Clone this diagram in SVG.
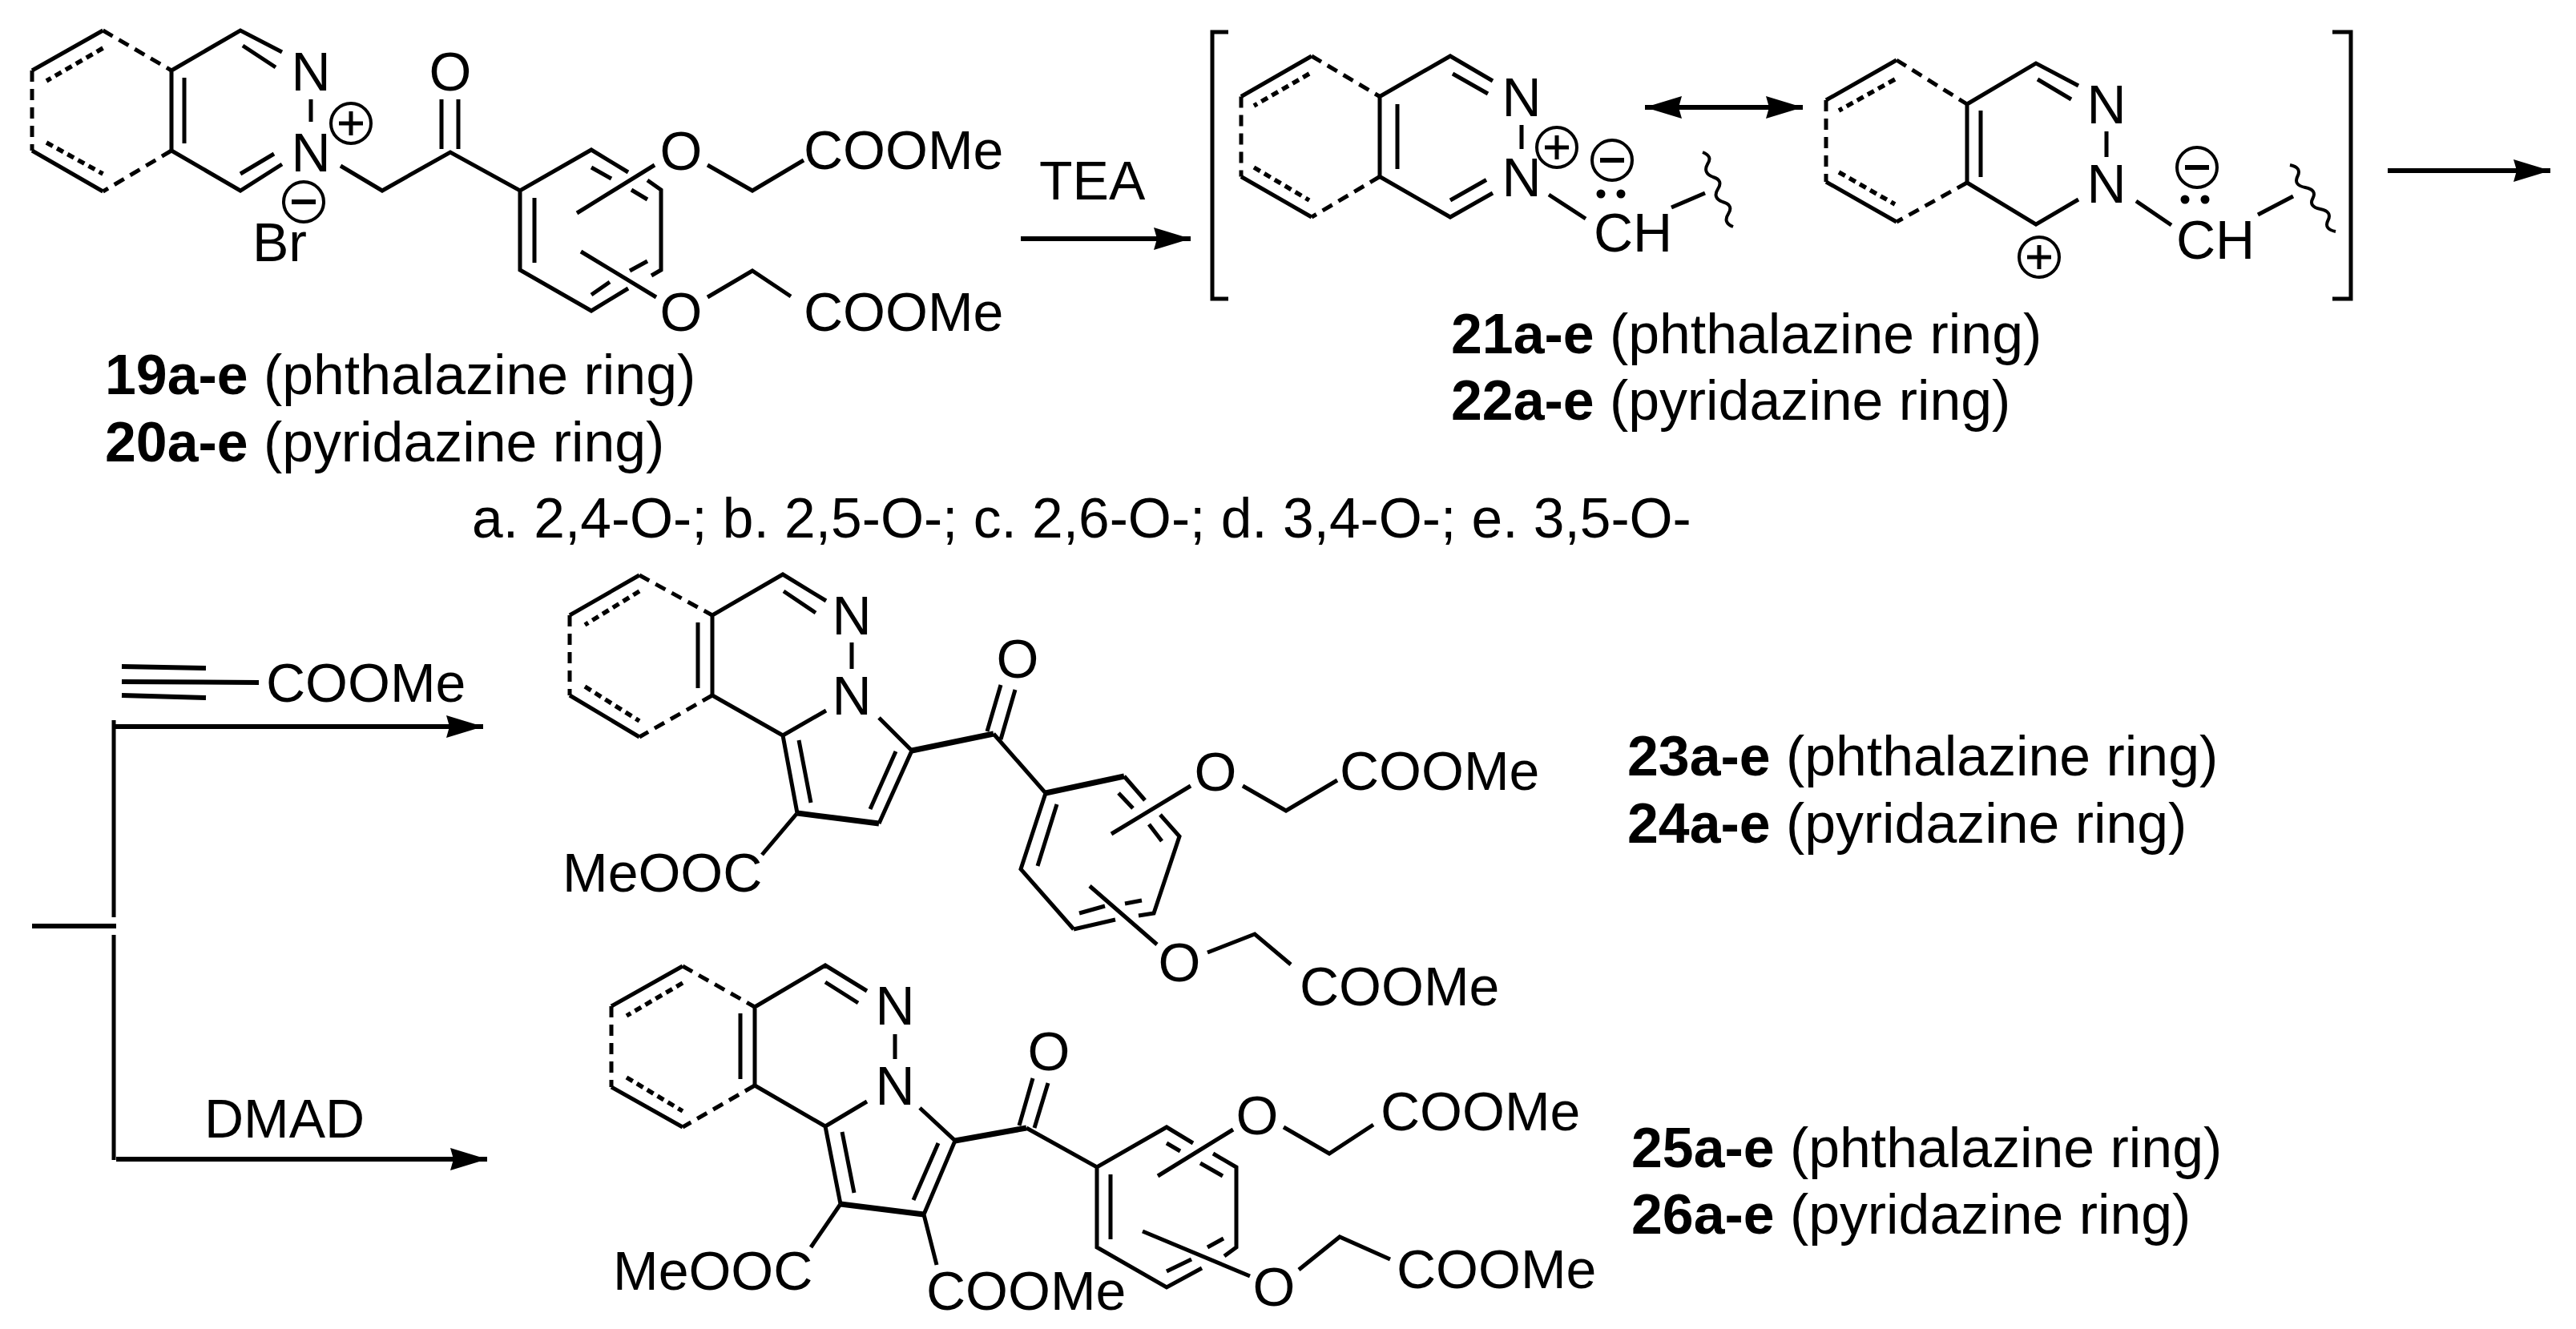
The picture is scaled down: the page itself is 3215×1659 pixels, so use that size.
<svg xmlns="http://www.w3.org/2000/svg" width="3215" height="1659" viewBox="0 0 3215 1659">
<style>
text{font-family:"Liberation Sans",Arial,sans-serif;font-size:68px;fill:#000}
text.l{font-size:69.8px}
.b{font-weight:bold}
.m{text-anchor:middle}
path{fill:none;stroke:#000;stroke-width:5}
.d{stroke-dasharray:14 9}
.f{stroke-dasharray:9 6;stroke-width:5.5}
.h{stroke-width:6}
.t{stroke-width:7}
circle{fill:none;stroke:#000;stroke-width:4}
.dot{fill:#000;stroke:none}
.w{stroke-width:4}
</style>
<defs>
<marker id="ah" markerUnits="userSpaceOnUse" markerWidth="50" markerHeight="30" refX="46" refY="14" orient="auto"><path d="M0 0L46 14L0 28L4 14Z" style="fill:#000;stroke:none"/></marker>
<marker id="ahs" markerUnits="userSpaceOnUse" markerWidth="50" markerHeight="30" refX="46" refY="14" orient="auto-start-reverse"><path d="M0 0L46 14L0 28L4 14Z" style="fill:#000;stroke:none"/></marker>
<g id="plus"><circle r="25"/><path d="M-15 0H15M0 -15V15"/></g>
<g id="minus"><circle r="25"/><path d="M-15 0H15" style="stroke-width:6"/></g>
</defs>

<g id="connectors">
<path class="h" d="M1274 298H1486" marker-end="url(#ah)"/>
<path class="h" d="M2053 134H2250" marker-start="url(#ahs)" marker-end="url(#ahs)"/>
<path class="h" d="M2980 213H3183" marker-end="url(#ah)"/>
<path d="M142 899V1145M142 1167V1448"/>
<path class="h" d="M142 907H603" marker-end="url(#ah)"/>
<path class="h" d="M145 1447H608" marker-end="url(#ah)"/>
<path class="h" d="M40 1156H145"/>
</g>

<g id="compound-19">
<path d="M128.5 38L40 88M40 188L128.5 239M214 88V188M230 97V179M128.5 38M214 88L300 38L352 65M303 57L344 84M388 124V152M214 188L300 238L352 205M300 217L342 192M425 207L477 238L562 190L649 238L738 187L784 215M808 225L825 237V337L813 344M738 209L763 223M788 237L808 249M808 326L786 338M784 360L738 388L649 337V238M738 368L761 352M667 247V328M551 186V124M572 186V124M720 266L817 206M883 206L939 238L1003 200M725 314L819 371M883 371L939 338L987 370"/>
<path class="d" d="M128.5 38L214 88M40 88V188M214 188L128.5 239"/>
<path class="f" d="M128.5 60L58 101M58 178L128.5 217"/>
<text x="388" y="113" class="m">N</text>
<text x="388" y="214" class="m">N</text>
<use href="#plus" x="438" y="154"/>
<use href="#minus" x="379" y="252"/>
<text x="315" y="326">Br</text>
<text x="562" y="113" class="m">O</text>
<text x="850" y="212" class="m">O</text>
<text x="1003" y="211">COOMe</text>
<text x="850" y="413" class="m">O</text>
<text x="1003" y="413">COOMe</text>
<text class="l" x="131" y="492"><tspan class="b">19a-e</tspan> (phthalazine ring)</text>
<text class="l" x="131" y="576"><tspan class="b">20a-e</tspan> (pyridazine ring)</text>
</g>

<text id="tea" x="1297" y="249">TEA</text>
<text id="substituents" class="l" x="589" y="671" style="font-size:69.5px">a. 2,4-O-; b. 2,5-O-; c. 2,6-O-; d. 3,4-O-; e. 3,5-O-</text>

<g id="intermediate-21">
<path d="M1533 40H1513V373H1533M2911 40H2934V373H2911"/>
<path d="M1637 70L1549 120.5M1549 220.5L1637 271M1722 120.5V220.5M1744 130V211M1722 120.5L1810 70L1863 101M1813 92L1857 117M1899 156V186M1722 220.5L1810 271L1863 241M1810 250L1855 224.5M1933 243L1979 273M2086 259L2128 241"/>
<path class="d" d="M1637 70L1722 120.5M1549 120.5V220.5M1722 220.5L1637 271"/>
<path class="f" d="M1634 92L1565 132M1565 209L1634 250"/>
<text x="1899" y="145" class="m">N</text>
<text x="1899" y="245" class="m">N</text>
<use href="#plus" x="1943" y="184"/>
<use href="#minus" x="2012" y="200"/>
<circle class="dot" cx="1998" cy="242" r="5.5"/>
<circle class="dot" cx="2023" cy="242" r="5.5"/>
<text x="1989" y="314">CH</text>
<path class="w" d="M2125 190Q2138 195 2131 205Q2125 216 2138 221Q2151 225 2144 236Q2137 247 2150 252Q2164 256 2157 267Q2150 278 2163 283"/>
</g>

<g id="intermediate-21-resonance">
<path d="M2367 75L2279 125M2279 227L2367 277M2455 130V228M2472 138V221M2455 130L2541 79L2594 107M2543 99L2585 124M2629 164V196M2455 228L2541 280L2594 249M2666 251L2710 281M2818 268L2862 245"/>
<path class="d" d="M2367 75L2455 130M2279 125V227M2455 228L2367 277"/>
<path class="f" d="M2365 99L2295 138M2295 215L2365 255"/>
<text x="2629" y="154" class="m">N</text>
<text x="2629" y="253" class="m">N</text>
<use href="#plus" x="2545" y="321"/>
<use href="#minus" x="2742" y="209"/>
<circle class="dot" cx="2727" cy="249" r="5.5"/>
<circle class="dot" cx="2752" cy="249" r="5.5"/>
<text x="2716" y="323">CH</text>
<path class="w" d="M2858 206Q2873 209 2867.5 220Q2862 231 2877 234Q2892 237 2886.5 247.5Q2881 258 2896 261Q2911 264 2905.5 275Q2900 286 2915 289"/>
<text class="l" x="1811" y="441"><tspan class="b">21a-e</tspan> (phthalazine ring)</text>
<text class="l" x="1811" y="524"><tspan class="b">22a-e</tspan> (pyridazine ring)</text>
</g>

<g id="reagent-propiolate">
<path d="M152 832L257 834M152 851L323 852M152 868L257 871" style="stroke-width:6"/>
<text x="332" y="876">COOMe</text>
</g>
<text id="dmad" x="255" y="1420">DMAD</text>

<g id="compound-23">
<path d="M798 718L711 768M711 868L798 920M889 768V868M871 777V859M889 768L977 717L1031 750M978 738L1018 765M1063 802V835M889 868L977 918L1031 887M977 918L995 1015M997 924L1012 1002M1097 1028L1138 937L1097 896M1118 938L1086 1010M995 1015L951 1067M1232 913L1249 855M1249 923L1267 861M1240 916L1305 990L1274 1085L1340 1160M1319 1004L1295 1081M1403 969L1429 999M1448 1017L1472 1044L1440 1140L1421 1143M1396 990L1414 1009M1434 1029L1450 1050M1425 1124L1404 1128M1392 1148L1340 1160M1379 1131L1347 1140M1387 1041L1486 981M1551 981L1605 1012L1669 974M1360 1106L1444 1179M1507 1189L1566 1166L1611 1204"/>
<path class="t" d="M995 1015L1097 1028M1138 937L1240 916M1305 990L1403 969"/>
<path class="d" d="M798 718L889 768M711 768V868M889 868L798 920"/>
<path class="f" d="M798 738L730 780M730 857L798 900"/>
<text x="1063" y="792" class="m">N</text>
<text x="1063" y="892" class="m">N</text>
<text x="1270" y="846" class="m">O</text>
<text x="1517" y="987" class="m">O</text>
<text x="1672" y="986">COOMe</text>
<text x="1472" y="1225" class="m">O</text>
<text x="1622" y="1255">COOMe</text>
<text x="702" y="1113">MeOOC</text>
<text class="l" x="2031" y="968"><tspan class="b">23a-e</tspan> (phthalazine ring)</text>
<text class="l" x="2031" y="1052"><tspan class="b">24a-e</tspan> (pyridazine ring)</text>
</g>

<g id="compound-25">
<path d="M852 1206L763 1256M763 1357L852 1407M942 1257V1355M924 1265V1347M942 1257L1030 1205L1082 1237M1030 1226L1071 1252M1117 1291V1322M942 1355L1030 1406L1082 1375M1030 1406L1049 1503M1051 1413L1066 1489M1153 1516L1192 1424L1148 1383M1171 1427L1140 1498M1049 1503L1012 1557M1153 1516L1169 1579M1272 1405L1289 1346M1291 1408L1308 1352M1281 1408L1369 1457L1456 1407L1489 1427M1514 1440L1543 1457V1557L1528 1568M1456 1427L1473 1437M1498 1452L1526 1468M1386 1466V1547M1527 1546L1507 1557M1500 1583L1456 1607L1369 1557V1457M1487 1572L1456 1587M1445 1468L1539 1410M1602 1407L1659 1440L1714 1404M1426 1537L1560 1593M1621 1585L1672 1544L1735 1572"/>
<path class="t" d="M1049 1503L1153 1516M1192 1424L1281 1408"/>
<path class="d" d="M852 1206L942 1257M763 1256V1357M942 1355L852 1407"/>
<path class="f" d="M852 1227L782 1268M782 1345L852 1387"/>
<text x="1117" y="1279" class="m">N</text>
<text x="1117" y="1379" class="m">N</text>
<text x="1309" y="1336" class="m">O</text>
<text x="1569" y="1416" class="m">O</text>
<text x="1723" y="1411">COOMe</text>
<text x="1590" y="1630" class="m">O</text>
<text x="1743" y="1608">COOMe</text>
<text x="765" y="1610">MeOOC</text>
<text x="1156" y="1635">COOMe</text>
<text class="l" x="2036" y="1457"><tspan class="b">25a-e</tspan> (phthalazine ring)</text>
<text class="l" x="2036" y="1540"><tspan class="b">26a-e</tspan> (pyridazine ring)</text>
</g>
</svg>
